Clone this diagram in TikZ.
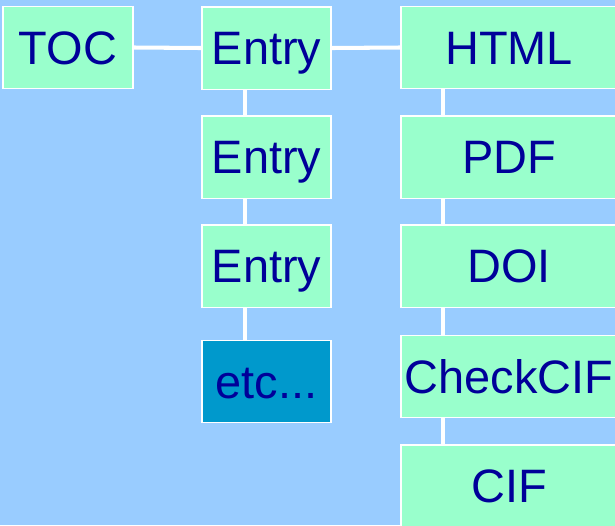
\documentclass[tikz,border=0pt]{standalone}
\usepackage{fontspec}
\setmainfont{Liberation Sans}
\usetikzlibrary{backgrounds}
\definecolor{bgblue}{HTML}{99CCFF}
\definecolor{mint}{HTML}{99FFCC}
\definecolor{deepblue}{HTML}{0099CC}
\definecolor{inkblue}{HTML}{000099}
\tikzset{
  box/.style={rectangle, draw=white, line width=0.85pt, fill=mint,
    text=inkblue, font=\fontsize{26.7}{30}\selectfont, inner sep=0pt,
    text height=19.1pt, text depth=0pt, minimum height=1.65cm},
  midbox/.style={box, minimum width=2.58cm},
  widebox/.style={box, minimum width=4.32cm},
  link/.style={draw=white, line width=2.3pt}
}
\begin{document}
\begin{tikzpicture}[x=0.02cm, y=-0.02cm]
\useasboundingbox (0,0) rectangle (615,525);
\clip (0,0) rectangle (615,525);

% left column
\node[box, minimum width=2.6cm] (toc) at (68,47.5) {TOC};

% entry column
\node[midbox] (e1) at (266.5,48) {Entry};
\node[midbox] (e2) at (266.5,157) {Entry};
\node[midbox] (e3) at (266.5,266) {Entry};
\node[midbox, fill=deepblue] (etc) at (266.5,381.5) {etc...};

% formats column
\node[widebox] (html) at (509,47.5) {HTML};
\node[widebox] (pdf) at (509,157) {PDF};
\node[widebox] (doi) at (509,266) {DOI};
\node[widebox] (chk) at (509,376.5) {CheckCIF};
\node[widebox] (cif) at (509,486) {CIF};

\begin{scope}[on background layer]
  \fill[bgblue] (0,0) rectangle (615,525);
  \draw[link] (toc.east) -- (e1.west);
  \draw[link] (e1.east) -- (html.west);
  \foreach \a/\b in {e1/e2, e2/e3, e3/etc}
    \draw[link] ([xshift=0.88cm]\a.south west) -- ([xshift=0.88cm]\b.north west);
  \foreach \a/\b in {html/pdf, pdf/doi, doi/chk, chk/cif}
    \draw[link] ([xshift=0.86cm]\a.south west) -- ([xshift=0.86cm]\b.north west);
\end{scope}
\end{tikzpicture}
\end{document}
